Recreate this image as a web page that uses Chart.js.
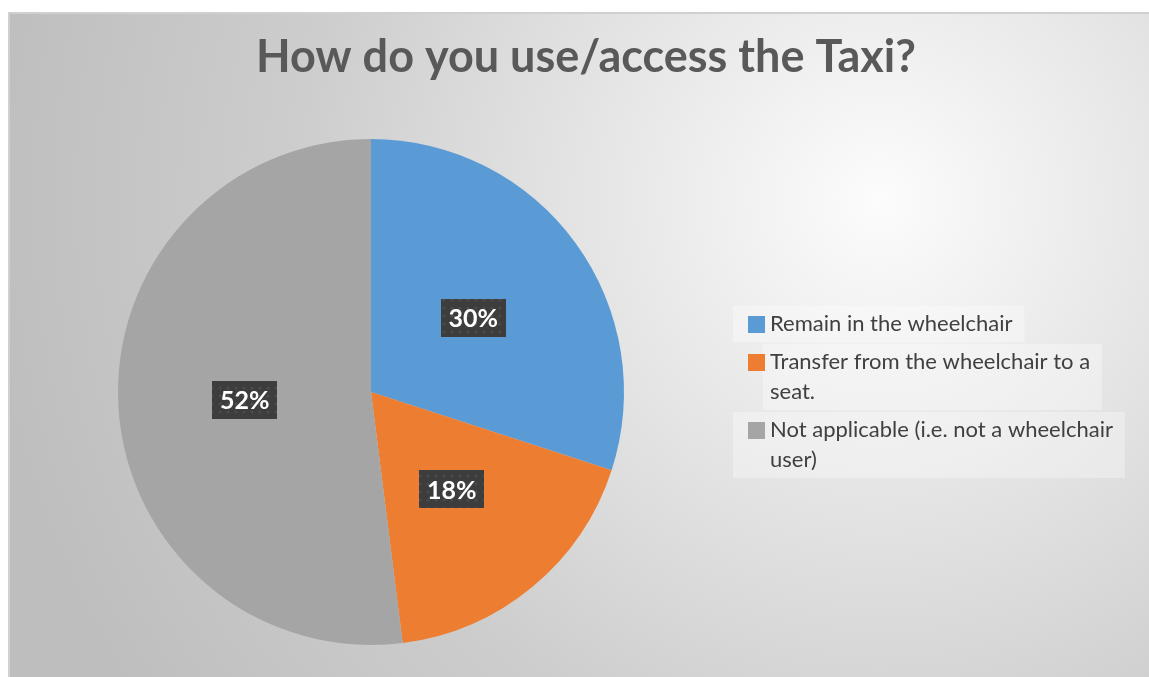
<!DOCTYPE html>
<html>
<head>
<meta charset="utf-8">
<script src="https://cdn.jsdelivr.net/npm/chart.js@4"></script>
<style>
  html, body { margin: 0; padding: 0; background: #ffffff; }
  #wrap { position: relative; width: 1149px; height: 677px; }
</style>
</head>
<body>
<div id="wrap"><canvas id="c" width="1149" height="677"></canvas></div>
<script>
// Survey answers
const chartTitle = 'How do you use/access the Taxi?';
const categories = [
  'Remain in the wheelchair',
  'Transfer from the wheelchair to a seat.',
  'Not applicable (i.e. not a wheelchair user)'
];
const shares = [30, 18, 52];
const sliceColors = ['#5B9BD5', '#ED7D31', '#A5A5A5'];

const FONT = 'Lato, "Open Sans", sans-serif';

// Dotted dark fill used behind the percentage labels
function makeLabelPattern(ctx) {
  const p = document.createElement('canvas');
  p.width = 8; p.height = 8;
  const pc = p.getContext('2d');
  pc.fillStyle = '#3d3d3d';
  pc.fillRect(0, 0, 8, 8);
  pc.fillStyle = '#4b4b4b';
  pc.beginPath(); pc.arc(4, 4, 1.6, 0, Math.PI * 2); pc.fill();
  return ctx.createPattern(p, 'repeat');
}

function wrapText(ctx, text, maxWidth) {
  const words = text.split(' ');
  const lines = [];
  let line = '';
  for (const w of words) {
    const test = line ? line + ' ' + w : w;
    if (ctx.measureText(test).width > maxWidth && line) {
      lines.push(line);
      line = w;
    } else {
      line = test;
    }
  }
  if (line) lines.push(line);
  return lines;
}

const framePlugin = {
  id: 'frame',
  beforeDraw(chart) {
    const ctx = chart.ctx;
    const W = chart.width, H = chart.height;
    ctx.save();
    ctx.fillStyle = '#ffffff';
    ctx.fillRect(0, 0, W, H);
    const fx = 9, fy = 13;
    const g = ctx.createRadialGradient(880, 200, 0, 880, 200, 900);
    g.addColorStop(0, '#fcfcfc');
    g.addColorStop(0.35, '#e3e3e3');
    g.addColorStop(0.65, '#cdcdcd');
    g.addColorStop(1, '#bebebe');
    ctx.fillStyle = g;
    ctx.fillRect(fx, fy, W - fx, H - fy);
    ctx.strokeStyle = '#d0d0d0';
    ctx.lineWidth = 2;
    ctx.beginPath();
    ctx.moveTo(fx, H);
    ctx.lineTo(fx, fy);
    ctx.lineTo(W, fy);
    ctx.stroke();
    ctx.restore();
  },
  afterDatasetsDraw(chart) {
    const ctx = chart.ctx;
    const meta = chart.getDatasetMeta(0);
    const data = chart.data.datasets[0].data;
    const total = data.reduce((a, b) => a + b, 0);
    const pattern = makeLabelPattern(ctx);
    ctx.save();
    ctx.font = 'bold 25px ' + FONT;
    ctx.textAlign = 'center';
    ctx.textBaseline = 'middle';
    meta.data.forEach((arc, i) => {
      const mid = (arc.startAngle + arc.endAngle) / 2;
      const r = arc.outerRadius * 0.5;
      const x = arc.x + Math.cos(mid) * r;
      const y = arc.y + Math.sin(mid) * r;
      const txt = Math.round(data[i] / total * 100) + '%';
      const w = ctx.measureText(txt).width + 16;
      const h = 38;
      ctx.fillStyle = pattern;
      ctx.fillRect(Math.round(x - w / 2), Math.round(y - h / 2), Math.round(w), h);
      ctx.fillStyle = '#ffffff';
      ctx.fillText(txt, x, y + 1);
    });
    ctx.restore();
  },
  afterDraw(chart) {
    const ctx = chart.ctx;
    ctx.save();
    // title
    ctx.font = 'bold 45px ' + FONT;
    ctx.fillStyle = '#595959';
    ctx.textAlign = 'center';
    ctx.textBaseline = 'alphabetic';
    ctx.fillText(chartTitle, 586, 72);

    // legend
    const labels = chart.data.labels;
    const colors = chart.data.datasets[0].backgroundColor;
    ctx.font = '22px ' + FONT;
    ctx.textAlign = 'left';
    ctx.textBaseline = 'alphabetic';
    const textX = 770, markX = 748, lineH = 30;
    let top = 306;
    labels.forEach((lab, i) => {
      const lines = wrapText(ctx, lab, 365);
      const widest = Math.max(...lines.map(l => ctx.measureText(l).width));
      const boxH = lines.length * lineH + 6;
      const boxL = i === 1 ? 763 : 733;
      ctx.fillStyle = 'rgba(255,255,255,0.32)';
      ctx.fillRect(boxL, top, textX + widest + 12 - boxL, boxH);
      ctx.fillStyle = colors[i];
      ctx.fillRect(markX, top + 10, 17, 17);
      ctx.fillStyle = '#404040';
      lines.forEach((l, j) => ctx.fillText(l, textX, top + 25 + j * lineH));
      top += boxH + 2;
    });
    ctx.restore();
  }
};

new Chart(document.getElementById('c'), {
  type: 'pie',
  data: {
    labels: categories,
    datasets: [{
      data: shares,
      backgroundColor: sliceColors,
      borderWidth: 0
    }]
  },
  options: {
    responsive: false,
    animation: false,
    devicePixelRatio: 1,
    layout: { padding: { left: 118, right: 525, top: 139, bottom: 32 } },
    plugins: {
      legend: { display: false },
      title: { display: false },
      tooltip: { enabled: false }
    }
  },
  plugins: [framePlugin]
});
</script>
</body>
</html>
